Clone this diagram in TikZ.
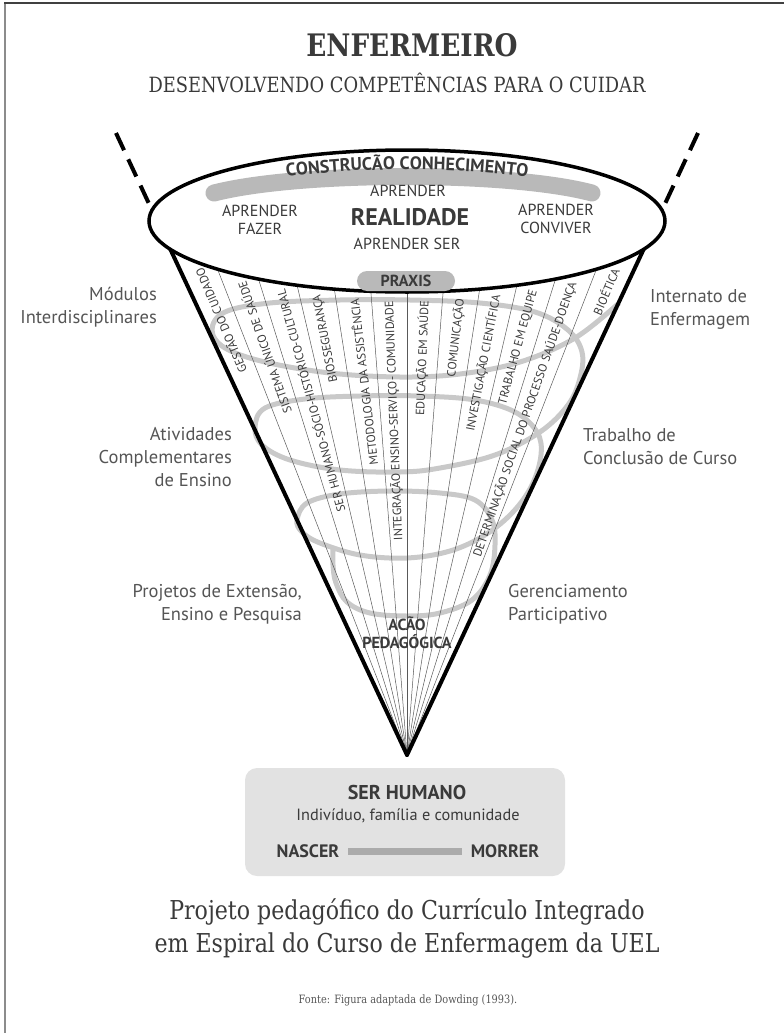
\documentclass[tikz,border=0pt]{standalone}
\usepackage{fontspec}
\setmainfont{PT Sans}
\newfontfamily\slabfont{DejaVu Serif}[FakeStretch=0.85]
\usetikzlibrary{decorations.text}
\definecolor{ink}{HTML}{3A3A3A}
\definecolor{labelgray}{HTML}{555555}
\definecolor{spiralgray}{HTML}{C9C9C9}
\definecolor{bandgray}{HTML}{B9B9B9}
\definecolor{boxgray}{HTML}{E2E2E2}
\definecolor{bargray}{HTML}{ABABAB}
\definecolor{framegray}{HTML}{8C8C8C}

\tikzset{
  side label/.style={font=\fontsize{18.5}{23}\selectfont, text=labelgray, inner sep=0pt},
  strip label/.style={font=\fontsize{12}{12}\selectfont, text=ink, anchor=east, inner sep=0pt},
  learn label/.style={font=\fontsize{16}{18}\selectfont, text=ink, align=center, inner sep=0pt},
  pill/.style={fill=bandgray, rounded corners=10pt, minimum width=98pt, minimum height=20pt,
    font=\bfseries\fontsize{16}{16}\selectfont, text=ink, inner sep=0pt},
  ray/.style={draw=black!65, line width=0.5pt},
  cone side/.style={line width=4pt, line cap=round},
}

\begin{document}
\begin{tikzpicture}[x=1pt,y=-1pt]
  \useasboundingbox (0,0) rectangle (784,1033);
  % frame
  \draw[framegray, line width=2pt] (5,1033) -- (5,3);
  \draw[black!75, line width=1.5pt] (4,3) -- (784,3);

  % titles
  \node[font=\slabfont\bfseries\fontsize{31}{31}\selectfont, text=ink] (title) at (412,45) {ENFERMEIRO};
  \node[font=\slabfont\fontsize{21}{21}\selectfont, text=ink] (subtitle) at (397,83) {DESENVOLVENDO COMPETÊNCIAS PARA O CUIDAR};

  % spiral
  \draw[spiralgray, line width=5pt] plot[smooth, tension=0.6] coordinates {
    (619,303) (575,338) (520,362) (460,374) (400,377) (330,373) (265,362) (225,348) (212,330)
    (225,312) (270,303) (340,300) (410,300) (480,303) (535,312) (568,330) (582,352) (580,378)
    (568,405) (540,432) (495,455) (440,468) (400,472) (340,470) (290,460) (262,445) (255,427)
    (265,408) (305,399) (360,396) (420,396) (475,400) (515,412) (537,432) (541,455)
    (532,485) (513,512) (485,535) (450,551) (407,558) (360,555) (320,543) (302,532) (297,520)
    (307,503) (340,494) (390,491) (440,493) (475,500) (492,520) (495,545)
    (490,575) (472,600) (440,613) (407,616) (370,613) (347,602) (336,583) (333,565) (333,548)};

  % rays and cone
  \coordinate (apex) at (407,755);
  \foreach \k in {-5,...,5}
    \draw[ray] (apex) -- ++(\k*41.34,-530);
  \draw[cone side] (apex) -- ++(-248,-530);
  \draw[cone side] (apex) -- ++(248,-530);
  \coordinate (dl) at (116,133);
  \coordinate (dr) at (698,133);
  \draw[line width=4pt, dash pattern=on 19pt off 10pt] (dl) -- (150.5,207);
  \draw[line width=4pt, dash pattern=on 19pt off 10pt] (dr) -- (663.5,207);

  % top of the cone
  \draw[line width=3.5pt, fill=white] (407,221) ellipse [x radius=258, y radius=71];
  \draw[bandgray, line width=17pt, line cap=round] (214,193) .. controls (300,171) and (510,171) .. (592,193);
  \path[decorate, decoration={text along path, text align=center,
      text={|\bfseries\fontsize{18}{18}\selectfont\color{ink}|CONSTRUCÃO CONHECIMENTO}}]
    (218,192) .. controls (303,162) and (512,162) .. (596,192);
  \node[learn label] (aprender) at (408,191) {APRENDER};
  \node[font=\bfseries\fontsize{24}{24}\selectfont, text=ink, inner sep=0pt] (realidade) at (410,217) {REALIDADE};
  \node[learn label] (ser) at (407,244) {APRENDER SER};
  \node[learn label] (fazer) at (260,220) {APRENDER\\FAZER};
  \node[learn label] (conviver) at (556,219) {APRENDER\\CONVIVER};
  \node[pill] (praxis) at (406,281) {PRAXIS};

  % strips
  \foreach \k/\ytop/\txt in {1/269/GESTÃO DO CUIDADO, 2/282/SISTEMA ÚNICO DE SAÚDE,
      3/290/SER HUMANO-SÓCIO-HISTÓRICO-CULTURAL, 4/295/BIOSSEGURANÇA,
      5/299/METODOLOGIA DA ASSISTÊNCIA, 6/301/INTEGRAÇÃO ENSINO-SERVIÇO- COMUNIDADE,
      7/301/EDUCAÇÃO EM SAÚDE, 8/299/COMUNICAÇÃO, 9/295/INVESTIGAÇÃO CIENTÍFICA,
      10/290/TRABALHO EM EQUIPE, 11/282/DETERMINAÇÃO SOCIAL DO PROCESSO SAÚDE-DOENÇA,
      12/269/BIOÉTICA}
  {
    \pgfmathsetmacro\slope{-0.468+(\k-0.5)*0.078}
    \pgfmathsetmacro\xtop{407+\slope*(755-\ytop)}
    \pgfmathsetmacro\ang{90-atan(\slope)}
    \node[strip label, rotate=\ang] (strip\k) at (\xtop,\ytop) {\txt};
  }

  % side labels
  \node[side label, anchor=east, align=right] (modulos) at (157,307) {Módulos\\Interdisciplinares};
  \node[side label, anchor=east, align=right] (atividades) at (232,457) {Atividades\\Complementares\\de Ensino};
  \node[side label, anchor=east, align=right] (projetos) at (302,604) {Projetos de Extensão,\\Ensino e Pesquisa};
  \node[side label, anchor=west, align=left] (internato) at (650,309) {Internato de\\Enfermagem};
  \node[side label, anchor=west, align=left] (trabalho) at (583,447) {Trabalho de\\Conclusão de Curso};
  \node[side label, anchor=west, align=left] (gerenciamento) at (508,604) {Gerenciamento\\Participativo};
  \node[font=\bfseries\fontsize{16}{18}\selectfont, text=ink, align=center, inner sep=0pt] (acao) at (407,633) {ACÃO\\PEDAGÓGICA};

  % ser humano
  \node[fill=boxgray, rounded corners=12pt, minimum width=320pt, minimum height=108pt] (humanbox) at (405,822) {};
  \node[font=\bfseries\fontsize{20}{20}\selectfont, text=ink] (serhumano) at (407,792) {SER HUMANO};
  \node[font=\fontsize{16.3}{16.3}\selectfont, text=ink] (familia) at (408,816) {Indivíduo, família e comunidade};
  \node[font=\bfseries\fontsize{18}{18}\selectfont, text=ink, inner sep=0pt] (nascer) at (308,851) {NASCER};
  \node[font=\bfseries\fontsize{18}{18}\selectfont, text=ink, inner sep=0pt] (morrer) at (505,851) {MORRER};
  \draw[bargray, line width=7pt] ([xshift=9pt]nascer.east) -- ([xshift=-9pt]morrer.west);

  % caption
  \node[font=\slabfont\fontsize{26}{33}\selectfont, text=ink, align=center] (projeto) at (407,928)
    {Projeto pedagófico do Currículo Integrado\\em Espiral do Curso de Enfermagem da UEL};
  \node[font=\slabfont\fontsize{11.5}{11.5}\selectfont, text=ink!85] (fonte) at (408,1000) {Fonte: Figura adaptada de Dowding (1993).};
\end{tikzpicture}
\end{document}
